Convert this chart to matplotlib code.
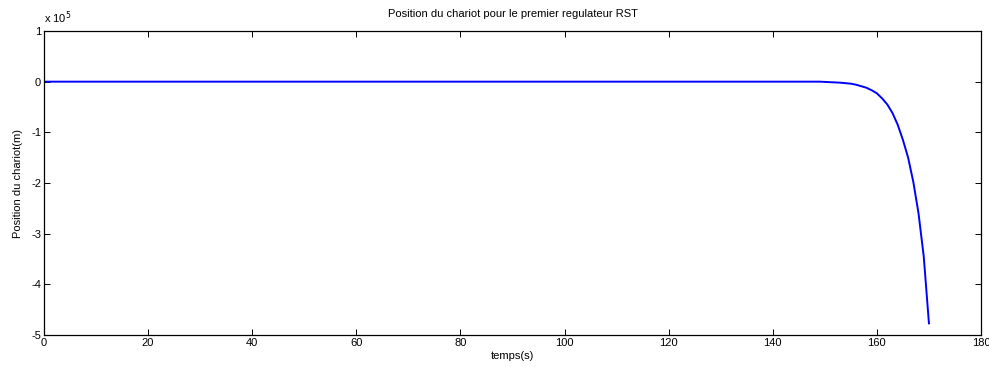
import matplotlib.pyplot as plt
from matplotlib.ticker import FuncFormatter

plt.rcParams['font.family'] = ['Liberation Sans', 'DejaVu Sans']

# Temps (s) et position du chariot (en unites de 1e5 m)
temps = [0, 100, 149, 150, 151, 152, 153, 154, 155, 156, 157, 158, 159,
         160, 161, 162, 163, 164, 165, 166, 167, 168, 169, 170]
position = [0, 0, 0, -0.005, -0.01, -0.015, -0.02, -0.03, -0.04, -0.06,
            -0.09, -0.12, -0.17, -0.23, -0.33, -0.45, -0.62, -0.85, -1.15,
            -1.5, -1.98, -2.6, -3.45, -4.77]
echelle = 1e5

fig = plt.figure(figsize=(9.89, 3.67), dpi=100)
ax = fig.add_axes([44 / 989, 1 - 335 / 367, (981 - 44) / 989, (335 - 31) / 367])

ax.plot(temps, [p * echelle for p in position], color='#0000ff', linewidth=1.4)

ax.set_xlim(0, 180)
ax.set_ylim(-5 * echelle, 1 * echelle)
ax.set_xticks(range(0, 181, 20))
ax.set_yticks([k * echelle for k in range(-5, 2)])
ax.yaxis.set_major_formatter(FuncFormatter(lambda v, pos: f"{v / echelle:.0f}"))

ax.tick_params(direction='in', top=True, right=True, length=4, width=0.7,
               labelsize=8, pad=2)
for s in ax.spines.values():
    s.set_linewidth(0.9)

ax.text(0, 1.015, r'x 10$^5$', transform=ax.transAxes, fontsize=8, ha='left', va='bottom')
ax.set_title('Position du chariot pour le premier regulateur RST', fontsize=8, pad=10)
ax.set_xlabel('temps(s)', fontsize=8, labelpad=2)
ax.set_ylabel('Position du chariot(m)', fontsize=8, labelpad=6)

fig.savefig('out.png', dpi=100)
